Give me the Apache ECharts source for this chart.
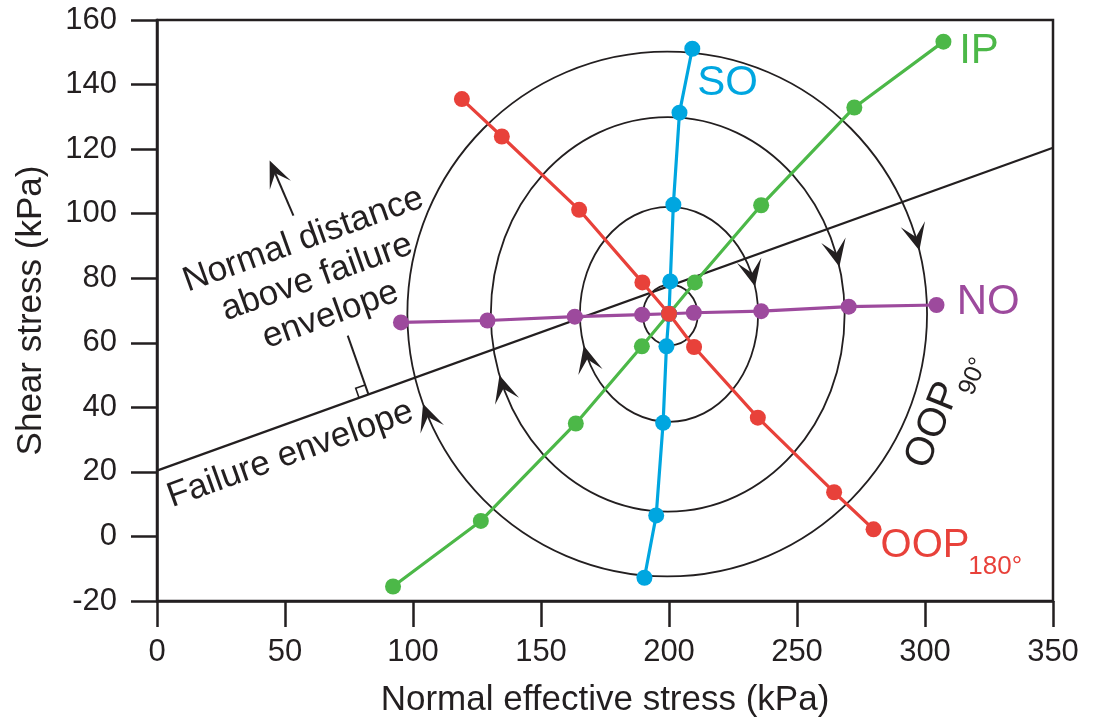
<!DOCTYPE html>
<html><head><meta charset="utf-8">
<script src="https://cdn.jsdelivr.net/npm/echarts@6/dist/echarts.min.js"></script>
<style>html,body{margin:0;padding:0;background:#fff}#c{width:1095px;height:723px}</style>
</head><body><div id="c"></div>
<script>
// ---- data (kPa) ----
const xTickValues = [0, 50, 100, 150, 200, 250, 300, 350];
const yTickValues = [-20, 0, 20, 40, 60, 80, 100, 120, 140, 160];

// stress paths: normal effective stress (x) and shear stress (y)
const ipX  = [92.2, 126.5, 163.6, 189.4, 200.0, 210.1, 236.0, 272.4, 307.2];
const ipY  = [-15.5, 4.8, 35.0, 58.9, 69.0, 78.7, 102.6, 132.9, 153.3];
const soX  = [190.4, 195.0, 197.7, 199.0, 200.0, 200.5, 201.7, 204.1, 209.1];
const soY  = [-12.8, 6.5, 35.2, 58.9, 69.0, 79.0, 102.8, 131.3, 151.1];
const oopX = [119.1, 134.7, 164.9, 189.6, 200.0, 209.8, 234.7, 264.5, 279.9];
const oopY = [135.5, 123.9, 101.2, 78.7, 69.0, 58.7, 36.8, 13.7, 2.2];
const noX  = [95.3, 129.1, 163.2, 189.5, 200.0, 209.7, 236.0, 270.2, 304.5];
const noY  = [66.3, 66.9, 68.1, 68.7, 69.0, 69.3, 69.8, 71.2, 71.7];

// OOP90 loops: centre and semi-axes (kPa)
const loopCx = [200.5, 200.0, 199.5, 199.3];
const loopCy = [68.6, 68.8, 68.8, 68.9];
const loopRx = [10.7, 34.8, 69.1, 101.5];
const loopRy = [9.4, 33.3, 61.1, 81.3];
// arrowheads on loops: loop index and angular position (deg)
const arrowLoop  = [1, 1, 2, 2, 3, 3];
const arrowAngle = [15, 197, 14, 198, 14, 200];

// failure envelope
const envX = [0, 350];
const envY = [20.4, 120.4];

// "normal distance" annotation geometry (kPa)
const perpX = [74.5, 82.6];
const perpY = [62.2, 44.0];
const ndArrowX = [53.3, 44.0];
const ndArrowY = [99.4, 116.5];

// text labels and their anchors (kPa)
const labelText = ['SO', 'IP', 'NO', 'OOP', '180°', 'OOP', '90°', 'Failure envelope', 'Normal distance\nabove failure\nenvelope'];
const labelX = [222.9, 321.1, 324.7, 300.0, 327.4, 303.3, 318.9, 52.1, 62.5];
const labelY = [140.4, 150.4, 72.4, -3.1, -9.3, 34.5, 49.6, 25.4, 80.2];

// ---- styling ----
const INK = '#231f20';
const FONT = '"Liberation Sans", Arial, Helvetica, sans-serif';
const C_IP = '#4cb848', C_SO = '#00a6e0', C_OOP = '#e8413a', C_NO = '#9d4a9d';
const labelStyle = [
  {color: C_SO, size: 42, rot: 0},
  {color: C_IP, size: 42, rot: 0},
  {color: C_NO, size: 42, rot: 0},
  {color: C_OOP, size: 40, rot: 0},
  {color: C_OOP, size: 26, rot: 0},
  {color: INK, size: 40, rot: 68},
  {color: INK, size: 25, rot: 68},
  {color: INK, size: 35, rot: 19.8},
  {color: INK, size: 35, rot: 19.8, lh: 40}
];

const pairs = (xs, ys) => xs.map((x, i) => [x, ys[i]]);

function pathSeries(name, xs, ys, color, z) {
  return {
    name, type: 'line', data: pairs(xs, ys), z,
    symbol: 'circle', symbolSize: 16, showSymbol: true,
    itemStyle: {color}, lineStyle: {color, width: 3.2},
    emphasis: {disabled: true}, silent: true
  };
}

function arrowHead(tip, u, L, W, N) {
  const n = [-u[1], u[0]];
  return [
    [tip[0], tip[1]],
    [tip[0] - L * u[0] + W * n[0], tip[1] - L * u[1] + W * n[1]],
    [tip[0] - N * u[0], tip[1] - N * u[1]],
    [tip[0] - L * u[0] - W * n[0], tip[1] - L * u[1] - W * n[1]]
  ];
}

const chart = echarts.init(document.getElementById('c'), null, {renderer: 'canvas'});
const axisCommon = {
  type: 'value',
  nameLocation: 'middle',
  nameTextStyle: {fontSize: 35, color: INK, fontFamily: FONT},
  axisLine: {show: true, onZero: false, lineStyle: {color: INK, width: 2.5}},
  axisTick: {show: true, length: 26, lineStyle: {color: INK, width: 2.5}},
  axisLabel: {fontSize: 31, color: INK, fontFamily: FONT},
  splitLine: {show: false}
};

const option = {
  animation: false,
  backgroundColor: '#fff',
  grid: {left: 157, top: 20, width: 896, height: 582, show: true, borderColor: INK, borderWidth: 2.5, backgroundColor: 'transparent'},
  xAxis: Object.assign({}, axisCommon, {
    min: xTickValues[0], max: xTickValues[xTickValues.length - 1], interval: 50,
    name: 'Normal effective stress (kPa)', nameGap: 82,
    axisLabel: Object.assign({}, axisCommon.axisLabel, {margin: 36})
  }),
  yAxis: Object.assign({}, axisCommon, {
    min: yTickValues[0], max: yTickValues[yTickValues.length - 1], interval: 20,
    name: 'Shear stress (kPa)', nameGap: 108,
    axisLabel: Object.assign({}, axisCommon.axisLabel, {margin: 40})
  }),
  series: [
    { // loops
      type: 'custom', z: 1, silent: true,
      data: loopCx.map((_, i) => [loopCx[i], loopCy[i], loopRx[i], loopRy[i]]),
      encode: {x: 0, y: 1},
      renderItem(params, api) {
        const c = api.coord([api.value(0), api.value(1)]);
        const s = api.size([api.value(2), api.value(3)]);
        return {type: 'ellipse', shape: {cx: c[0], cy: c[1], rx: s[0], ry: s[1]},
          style: {fill: 'none', stroke: INK, lineWidth: 1.8}};
      }
    },
    { // arrowheads on loops
      type: 'custom', z: 2, silent: true,
      data: arrowLoop.map((l, i) => [loopCx[l], loopCy[l], l, arrowAngle[i]]),
      encode: {x: 0, y: 1},
      renderItem(params, api) {
        const l = api.value(2), t = api.value(3) * Math.PI / 180;
        const c = api.coord([loopCx[l], loopCy[l]]);
        const s = api.size([loopRx[l], loopRy[l]]);
        const tip = [c[0] + s[0] * Math.cos(t), c[1] - s[1] * Math.sin(t)];
        let u = [s[0] * Math.sin(t), s[1] * Math.cos(t)];
        const m = Math.hypot(u[0], u[1]); u = [u[0] / m, u[1] / m];
        return {type: 'polygon', shape: {points: arrowHead(tip, u, 27, 12.5, 14)}, style: {fill: INK}};
      }
    },
    { // failure envelope
      type: 'line', z: 3, data: pairs(envX, envY), symbol: 'none', silent: true,
      lineStyle: {color: INK, width: 2.2}
    },
    { // perpendicular + right-angle marker
      type: 'custom', z: 3, silent: true,
      data: [[perpX[0], perpY[0], perpX[1], perpY[1]]],
      encode: {x: 0, y: 1},
      renderItem(params, api) {
        const top = api.coord([api.value(0), api.value(1)]);
        const foot = api.coord([api.value(2), api.value(3)]);
        let u = [top[0] - foot[0], top[1] - foot[1]];
        const m = Math.hypot(u[0], u[1]); u = [u[0] / m, u[1] / m];
        const e = [u[1], -u[0]];
        const q = 10;
        return {type: 'group', children: [
          {type: 'line', shape: {x1: top[0], y1: top[1], x2: foot[0], y2: foot[1]}, style: {stroke: INK, lineWidth: 2}},
          {type: 'polyline', shape: {points: [
            [foot[0] + q * e[0], foot[1] + q * e[1]],
            [foot[0] + q * e[0] + q * u[0], foot[1] + q * e[1] + q * u[1]],
            [foot[0] + q * u[0], foot[1] + q * u[1]]
          ]}, style: {stroke: INK, lineWidth: 1.6, fill: 'none'}}
        ]};
      }
    },
    { // normal distance arrow
      type: 'custom', z: 3, silent: true,
      data: [[ndArrowX[0], ndArrowY[0], ndArrowX[1], ndArrowY[1]]],
      encode: {x: 0, y: 1},
      renderItem(params, api) {
        const a = api.coord([api.value(0), api.value(1)]);
        const b = api.coord([api.value(2), api.value(3)]);
        let u = [b[0] - a[0], b[1] - a[1]];
        const m = Math.hypot(u[0], u[1]); u = [u[0] / m, u[1] / m];
        const base = [b[0] - 14 * u[0], b[1] - 14 * u[1]];
        return {type: 'group', children: [
          {type: 'line', shape: {x1: a[0], y1: a[1], x2: base[0], y2: base[1]}, style: {stroke: INK, lineWidth: 2}},
          {type: 'polygon', shape: {points: arrowHead(b, u, 27, 11.5, 14)}, style: {fill: INK}}
        ]};
      }
    },
    pathSeries('NO', noX, noY, C_NO, 4),
    pathSeries('IP', ipX, ipY, C_IP, 5),
    pathSeries('SO', soX, soY, C_SO, 6),
    pathSeries('OOP180', oopX, oopY, C_OOP, 7),
    { // text labels
      type: 'custom', z: 10, silent: true,
      data: labelX.map((x, i) => [x, labelY[i], i]),
      encode: {x: 0, y: 1},
      renderItem(params, api) {
        const i = api.value(2);
        const c = api.coord([api.value(0), api.value(1)]);
        const st = labelStyle[i];
        return {type: 'text', x: c[0], y: c[1], rotation: st.rot * Math.PI / 180,
          style: {text: labelText[i], fill: st.color, fontSize: st.size, fontFamily: FONT,
            align: 'center', verticalAlign: 'middle', lineHeight: st.lh || st.size}};
      }
    }
  ]
};
chart.setOption(option);
</script></body></html>
